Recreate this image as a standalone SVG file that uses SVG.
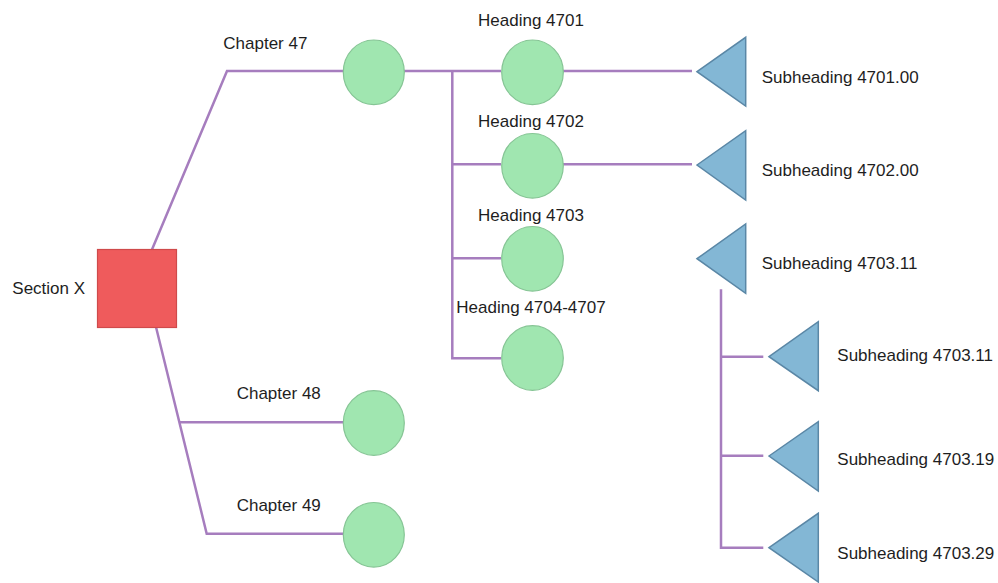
<svg xmlns="http://www.w3.org/2000/svg" width="998" height="583" viewBox="0 0 998 583">
  <style>
    .lbl { font-family: "Liberation Sans", Arial, sans-serif; font-size: 17px; fill: #1e1e1e; }
    .mid { text-anchor: middle; }
    .link { fill: none; stroke: #A67DBE; stroke-width: 2.5; }
    .root { fill: #EF5B5C; stroke: #CF4A4B; stroke-width: 1.2; }
    .circ { fill: #A0E6B0; stroke: #86C595; stroke-width: 1.2; }
    .tri { fill: #83B7D5; stroke: #5A87A6; stroke-width: 1.5; stroke-linejoin: miter; }
  </style>
  <rect width="998" height="583" fill="#ffffff"/>

  <!-- connectors -->
  <g id="connectors" class="link">
    <polyline points="152,249.5 227,71 501,71"/>
    <polyline points="156,327 206.7,533.7 343,533.7"/>
    <line x1="180" y1="422.3" x2="343" y2="422.3"/>
    <polyline points="452.3,71 452.3,358.3 501,358.3"/>
    <line x1="452.3" y1="164.3" x2="501" y2="164.3"/>
    <line x1="452.3" y1="258.3" x2="501" y2="258.3"/>
    <line x1="563" y1="71" x2="692" y2="71"/>
    <line x1="563" y1="164.3" x2="692" y2="164.3"/>
    <polyline points="721,289.3 721,547.7 763.3,547.7"/>
    <line x1="721" y1="356.7" x2="763.3" y2="356.7"/>
    <line x1="721" y1="455.7" x2="763.3" y2="455.7"/>
  </g>

  <!-- root -->
  <g id="section-x">
    <rect class="root" x="97.5" y="249.5" width="79" height="78"/>
    <text class="lbl" x="12.3" y="294">Section X</text>
  </g>

  <!-- chapters -->
  <g id="chapter-47">
    <ellipse class="circ" cx="373.8" cy="72.3" rx="30.5" ry="32.3"/>
    <text class="lbl" x="223.3" y="49.3">Chapter 47</text>
  </g>
  <g id="chapter-48">
    <ellipse class="circ" cx="373.8" cy="423" rx="30.5" ry="32.3"/>
    <text class="lbl" x="236.7" y="399.3">Chapter 48</text>
  </g>
  <g id="chapter-49">
    <ellipse class="circ" cx="373.8" cy="534.8" rx="30.5" ry="32.3"/>
    <text class="lbl" x="236.7" y="511">Chapter 49</text>
  </g>

  <!-- headings -->
  <g id="heading-4701">
    <ellipse class="circ" cx="532.5" cy="72.3" rx="30.8" ry="32.3"/>
    <text class="lbl mid" x="531" y="26">Heading 4701</text>
  </g>
  <g id="heading-4702">
    <ellipse class="circ" cx="532.5" cy="165.8" rx="30.8" ry="32.3"/>
    <text class="lbl mid" x="531" y="126.7">Heading 4702</text>
  </g>
  <g id="heading-4703">
    <ellipse class="circ" cx="532.5" cy="258.8" rx="30.8" ry="32.3"/>
    <text class="lbl mid" x="531" y="220.7">Heading 4703</text>
  </g>
  <g id="heading-4704-4707">
    <ellipse class="circ" cx="532.5" cy="358" rx="30.8" ry="32.3"/>
    <text class="lbl mid" x="531" y="313.3">Heading 4704-4707</text>
  </g>

  <!-- subheadings -->
  <g id="subheading-4701-00">
    <polygon class="tri" points="697,71.7 745.7,37.3 745.7,106"/>
    <text class="lbl" x="761.7" y="82.7">Subheading 4701.00</text>
  </g>
  <g id="subheading-4702-00">
    <polygon class="tri" points="697,165 745.7,130.7 745.7,200"/>
    <text class="lbl" x="761.7" y="175.7">Subheading 4702.00</text>
  </g>
  <g id="subheading-4703-11-group">
    <polygon class="tri" points="697,258.7 745.7,224 745.7,293.3"/>
    <text class="lbl" x="761.7" y="269.3">Subheading 4703.11</text>
  </g>
  <g id="subheading-4703-11">
    <polygon class="tri" points="769,356.7 818.3,321.7 818.3,390.7"/>
    <text class="lbl" x="837.3" y="361">Subheading 4703.11</text>
  </g>
  <g id="subheading-4703-19">
    <polygon class="tri" points="769,456 818.3,421.7 818.3,491"/>
    <text class="lbl" x="837.3" y="465">Subheading 4703.19</text>
  </g>
  <g id="subheading-4703-29">
    <polygon class="tri" points="769,547.7 818.3,513.3 818.3,582"/>
    <text class="lbl" x="837.3" y="559.3">Subheading 4703.29</text>
  </g>
</svg>
